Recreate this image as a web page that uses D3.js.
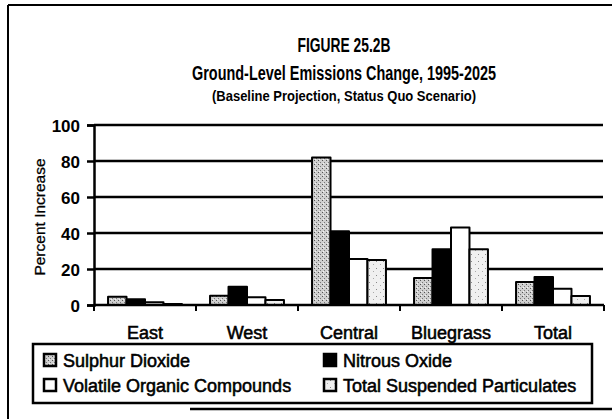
<!DOCTYPE html>
<html>
<head>
<meta charset="utf-8">
<script src="https://cdn.jsdelivr.net/npm/d3@7"></script>
<style>
  html, body { margin: 0; padding: 0; background: #fff; }
  svg { display: block; }
  text { font-family: "Liberation Sans", Arial, Helvetica, sans-serif; fill: #000; }
  .heavy { stroke: #000; stroke-width: 0.55px; }
</style>
</head>
<body>
<script>
// Regions and pollutant series (percent increase, 1995-2025)
const categories = ["East", "West", "Central", "Bluegrass", "Total"];
const seriesNames = ["Sulphur Dioxide", "Nitrous Oxide", "Volatile Organic Compounds", "Total Suspended Particulates"];
const sulphurDioxide = [4.6, 5.2, 82, 15, 12.8];
const nitrousOxide = [3.2, 10.2, 41, 31, 15.5];
const volatileOrganic = [1.5, 4.3, 25.5, 43, 9];
const suspendedParticulates = [0.5, 2.8, 25, 31, 5];
const yTicks = [0, 20, 40, 60, 80, 100];
const titleLines = ["FIGURE 25.2B", "Ground-Level Emissions Change, 1995-2025", "(Baseline Projection, Status Quo Scenario)"];

const seriesValues = [sulphurDioxide, nitrousOxide, volatileOrganic, suspendedParticulates];
const data = categories.map((c, i) => ({
  category: c,
  values: seriesNames.map((s, k) => ({ series: s, value: seriesValues[k][i] }))
}));

const W = 612, H = 419;
const svg = d3.select("body").append("svg").attr("width", W).attr("height", H);

// fill patterns: dense grey stipple and light stipple
const defs = svg.append("defs");
const p1 = defs.append("pattern").attr("id", "stippleDark").attr("patternUnits", "userSpaceOnUse")
  .attr("width", 4).attr("height", 4);
p1.append("rect").attr("width", 4).attr("height", 4).attr("fill", "#cfcfcf");
p1.append("rect").attr("x", 0).attr("y", 0).attr("width", 1).attr("height", 1).attr("fill", "#555");
p1.append("rect").attr("x", 2).attr("y", 2).attr("width", 1).attr("height", 1).attr("fill", "#777");
p1.append("rect").attr("x", 1).attr("y", 3).attr("width", 1).attr("height", 1).attr("fill", "#f4f4f4");
const p2 = defs.append("pattern").attr("id", "stippleLight").attr("patternUnits", "userSpaceOnUse")
  .attr("width", 7).attr("height", 7);
p2.append("rect").attr("width", 7).attr("height", 7).attr("fill", "#f0f0f0");
p2.append("rect").attr("x", 1).attr("y", 2).attr("width", 1).attr("height", 1).attr("fill", "#888");
p2.append("rect").attr("x", 5).attr("y", 5).attr("width", 1).attr("height", 1).attr("fill", "#aaa");

const fills = {
  "Sulphur Dioxide": "url(#stippleDark)",
  "Nitrous Oxide": "#000",
  "Volatile Organic Compounds": "#fff",
  "Total Suspended Particulates": "url(#stippleLight)"
};

// outer frame (top, left, and bottom shadow)
svg.append("line").attr("x1", 8).attr("x2", 612).attr("y1", 5).attr("y2", 5).attr("stroke", "#000").attr("stroke-width", 2);
svg.append("line").attr("x1", 8).attr("x2", 8).attr("y1", 5).attr("y2", 419).attr("stroke", "#000").attr("stroke-width", 2);
svg.append("line").attr("x1", 190).attr("x2", 612).attr("y1", 409).attr("y2", 409).attr("stroke", "#000").attr("stroke-width", 2.5);

// titles
const titleX = 344;
const titleSpec = [
  { y: 52, size: 20, len: 93 },
  { y: 80, size: 19.5, len: 304 },
  { y: 100.5, size: 14.5, len: 264 }
];
titleLines.forEach((t, i) => {
  svg.append("text").attr("x", titleX).attr("y", titleSpec[i].y)
    .attr("text-anchor", "middle").attr("font-weight", "bold")
    .attr("font-size", titleSpec[i].size)
    .attr("textLength", titleSpec[i].len).attr("lengthAdjust", "spacingAndGlyphs")
    .text(t);
});

// scales
const plotLeft = 94, plotRight = 604, plotTop = 125, plotBottom = 305;
const x = d3.scaleBand().domain(categories).range([plotLeft, plotRight]).padding(0);
const xs = d3.scaleBand().domain(seriesNames).range([0, x.bandwidth()]).paddingInner(0).paddingOuter(0.76);
const y = d3.scaleLinear().domain([0, 100]).range([plotBottom, plotTop]);

// gridlines
svg.append("g").selectAll("line").data(yTicks.filter(d => d > 0)).join("line")
  .attr("x1", plotLeft).attr("x2", plotRight - 1)
  .attr("y1", d => y(d)).attr("y2", d => y(d))
  .attr("stroke", "#000").attr("stroke-width", 2.5);

// bars
const groups = svg.append("g").selectAll("g").data(data).join("g")
  .attr("transform", d => `translate(${x(d.category)},0)`);
groups.selectAll("rect").data(d => d.values).join("rect")
  .attr("x", d => xs(d.series))
  .attr("y", d => y(d.value))
  .attr("width", xs.bandwidth())
  .attr("height", d => y(0) - y(d.value))
  .attr("fill", d => fills[d.series])
  .attr("stroke", "#000").attr("stroke-width", 2)
  .attr("stroke-linejoin", "round");

// y axis
const yAxis = d3.axisLeft(y).tickValues(yTicks).tickSize(7).tickPadding(7);
const gy = svg.append("g").attr("transform", `translate(${plotLeft},0)`).call(yAxis);
gy.select(".domain").attr("stroke-width", 2.5);
gy.selectAll(".tick line").attr("stroke-width", 2.5);
gy.selectAll(".tick text").attr("font-size", 17).attr("font-weight", "bold")
  .attr("font-family", "Liberation Sans, Arial, sans-serif").attr("dy", "0.36em");

// x axis: ticks at category boundaries
const boundaries = categories.map(c => x(c)).concat([x(categories[categories.length - 1]) + x.bandwidth()]);
svg.append("line").attr("x1", plotLeft).attr("x2", plotRight).attr("y1", plotBottom).attr("y2", plotBottom)
  .attr("stroke", "#000").attr("stroke-width", 2.5);
svg.append("g").selectAll("line").data(boundaries).join("line")
  .attr("x1", d => d).attr("x2", d => d).attr("y1", plotBottom).attr("y2", plotBottom + 6)
  .attr("stroke", "#000").attr("stroke-width", 2);
svg.append("g").selectAll("text").data(categories).join("text")
  .attr("class", "heavy")
  .attr("x", d => x(d) + x.bandwidth() / 2).attr("y", 339)
  .attr("text-anchor", "middle").attr("font-size", 18)
  .text(d => d);

// y axis title
svg.append("text").attr("transform", "translate(45,217) rotate(-90)")
  .attr("text-anchor", "middle").attr("font-size", 15.5)
  .attr("class", "heavy").style("stroke-width", "0.3px")
  .text("Percent Increase");

// legend
const legend = svg.append("g");
legend.append("rect").attr("x", 33).attr("y", 344).attr("width", 559).attr("height", 59)
  .attr("fill", "#fff").attr("stroke", "#000").attr("stroke-width", 2.5);
const legendPos = [
  { x: 44, y: 354 }, { x: 324, y: 354 },
  { x: 44, y: 379 }, { x: 324, y: 379 }
];
seriesNames.forEach((s, i) => {
  const p = legendPos[i];
  legend.append("rect").attr("x", p.x).attr("y", p.y).attr("width", 12).attr("height", 12)
    .attr("fill", fills[s]).attr("stroke", "#000").attr("stroke-width", 2.5);
  legend.append("text").attr("class", "heavy").attr("x", p.x + 19).attr("y", p.y + 13)
    .attr("font-size", 18).text(s);
});
</script>
</body>
</html>
